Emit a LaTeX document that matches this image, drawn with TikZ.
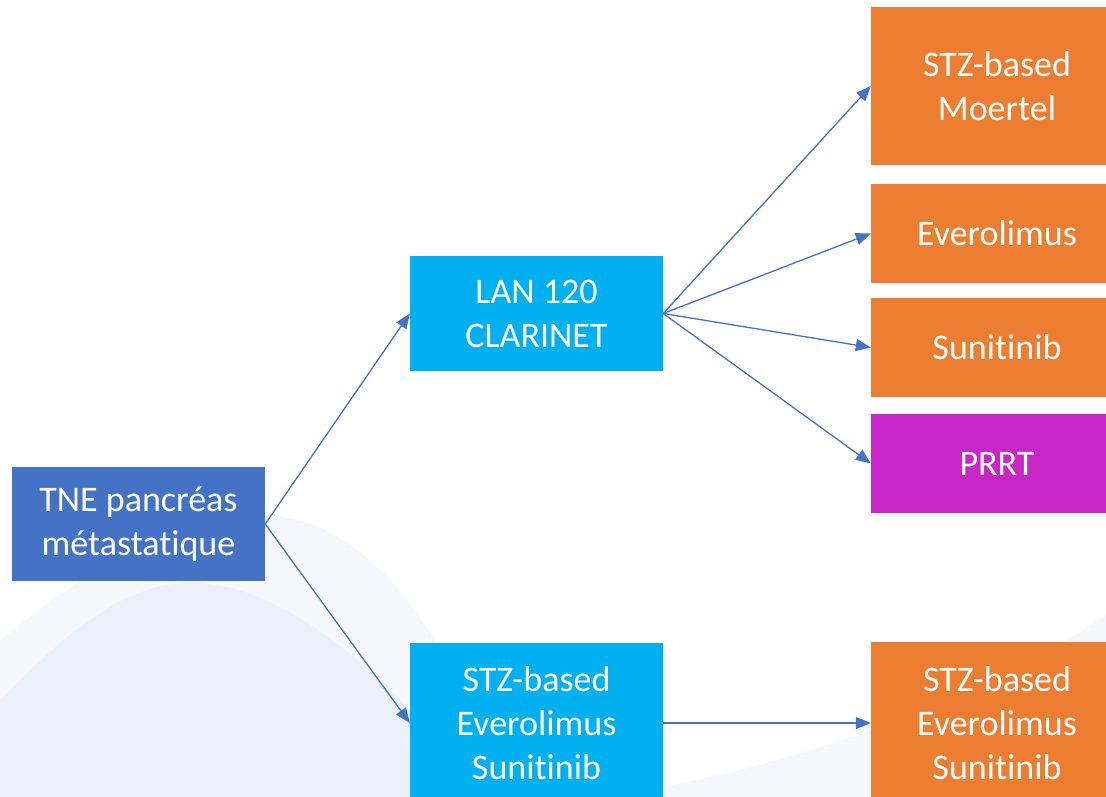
\documentclass[tikz,border=0pt]{standalone}
\usepackage{fontspec}
\setmainfont{Carlito}[RawFeature={-liga}]
\usetikzlibrary{arrows.meta}
\definecolor{tneblue}{HTML}{4472C4}
\definecolor{cyanbox}{HTML}{00B0F0}
\definecolor{orangebox}{HTML}{ED7D31}
\definecolor{prrtbox}{HTML}{C926C8}
\definecolor{waveA}{HTML}{F5F7FC}
\definecolor{waveB}{HTML}{ECF0FA}
\tikzset{
  box/.style={rectangle, inner sep=0pt, text=white, align=center,
    font=\fontsize{36}{44}\selectfont},
  arr/.style={draw=tneblue, line width=1.3pt, -{Triangle[length=15pt,width=12pt]}}
}
\begin{document}
\begin{tikzpicture}[x=1pt,y=-1pt]
\useasboundingbox (0,0) rectangle (1106,797);
\clip (0,0) rectangle (1106,797);
% background waves
\fill[waveA] (0,640) .. controls (100,560) and (180,515) .. (260,515)
  .. controls (340,515) and (400,580) .. (440,650)
  .. controls (470,700) and (490,760) .. (500,797) -- (0,797) -- cycle;
\fill[waveB] (0,700) .. controls (60,640) and (120,583) .. (190,583)
  .. controls (260,583) and (330,630) .. (400,700)
  .. controls (430,730) and (450,770) .. (460,797) -- (0,797) -- cycle;
\fill[waveA] (600,797) .. controls (800,770) and (1000,690) .. (1106,615) -- (1106,797) -- cycle;
% nodes
\node[box, fill=tneblue, minimum width=253pt, minimum height=114pt] (tne) at (138.5,524) {TNE pancréas\\métastatique};
\node[box, fill=cyanbox, minimum width=253pt, minimum height=115pt] (lan) at (536.5,313.5) {LAN 120\\CLARINET};
\node[box, fill=cyanbox, minimum width=253pt, minimum height=160pt] (stzb) at (536.5,723) {STZ-based\\Everolimus\\Sunitinib};
\node[box, fill=orangebox, minimum width=252pt, minimum height=158pt] (moertel) at (997,86) {STZ-based\\Moertel};
\node[box, fill=orangebox, minimum width=252pt, minimum height=99pt] (evero) at (997,233.5) {Everolimus};
\node[box, fill=orangebox, minimum width=252pt, minimum height=99pt] (suni) at (997,347.5) {Sunitinib};
\node[box, fill=prrtbox, minimum width=252pt, minimum height=99pt] (prrt) at (997,463.5) {PRRT};
\node[box, fill=orangebox, minimum width=252pt, minimum height=162pt] (stzo) at (997,723) {STZ-based\\Everolimus\\Sunitinib};
% connectors
\draw[arr] (tne.east) -- (lan.west);
\draw[arr] (tne.east) -- (stzb.west);
\draw[arr] (lan.east) -- (moertel.west);
\draw[arr] (lan.east) -- (evero.west);
\draw[arr] (lan.east) -- (suni.west);
\draw[arr] (lan.east) -- (prrt.west);
\draw[arr] (stzb.east) -- (stzo.west);
\end{tikzpicture}
\end{document}
